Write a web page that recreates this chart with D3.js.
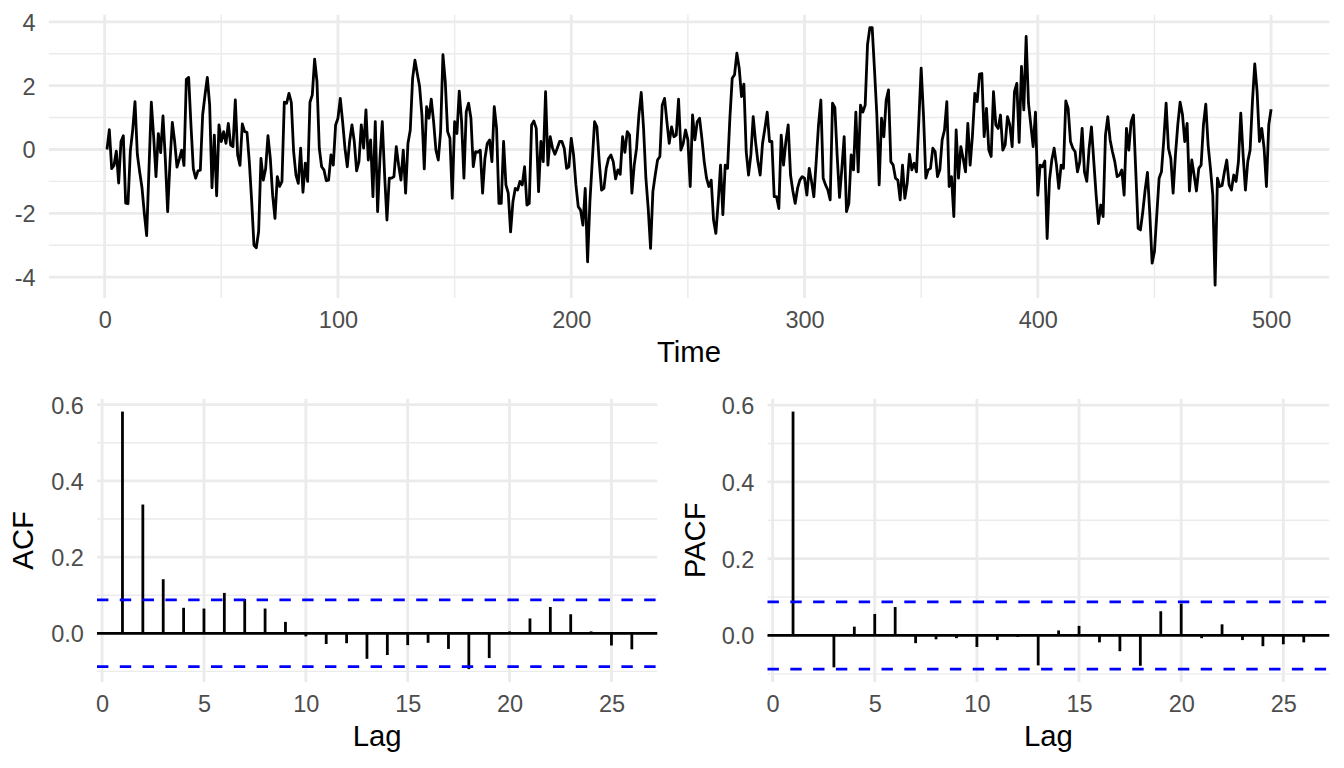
<!DOCTYPE html>
<html>
<head>
<meta charset="utf-8">
<script src="https://cdn.jsdelivr.net/npm/d3@7"></script>
<style>
  body { margin: 0; background: #ffffff; }
  svg text { font-family: "Liberation Sans", Arial, sans-serif; }
</style>
</head>
<body>
<script>
// simulated series (t = 1..500)
const series = [
  0.0, 0.62, -0.6, -0.5, -0.05, -1.05, 0.25, 0.43, -1.68, -1.7,
  -0.05, 0.6, 1.5, -0.15, -0.7, -1.2, -2.0, -2.7, -0.6, 1.48,
  0.4, -0.85, 0.5, -0.1, 1.05, -0.3, -1.95, -0.4, 0.85, 0.25,
  -0.55, -0.3, -0.02, -0.5, 2.2, 2.26, 0.75, -0.6, -0.9, -0.67,
  -0.65, 1.08, 1.7, 2.26, 1.4, -1.2, 0.45, -1.45, 0.77, 0.25,
  0.56, 0.19, 0.82, 0.14, 0.09, 1.55, -0.17, -0.5, 0.8, 0.56,
  0.54, -0.38, -1.6, -3.0, -3.08, -2.57, -0.28, -0.96, -0.6, 0.43,
  -0.28, -1.43, -2.16, -0.85, -1.16, -1.0, 1.48, 1.45, 1.76, 1.48,
  -0.07, -0.8, -1.06, 0.04, -1.34, -0.43, -1.0, 1.48, 1.71, 2.83,
  2.13, 0.04, -0.54, -0.64, -0.98, -0.96, -0.17, -0.49, 0.77, 0.98,
  1.6, 0.87, 0.04, -0.54, 0.25, 0.77, 0.25, -0.67, -0.38, 0.77,
  0.04, 1.24, -0.33, 0.3, -1.48, 0.87, -1.95, -0.28, 0.87, -0.8,
  -2.21, -0.9, -0.9, -0.85, 0.09, -0.49, -0.96, -0.02, -1.37, 0.19,
  0.61, 2.23, 2.8, 2.38, 1.97, 1.08, -0.61, 1.34, 0.98, 1.58,
  0.87, -0.02, -0.33, 0.56, 2.97, 2.13, 0.56, 0.35, -1.53, 0.87,
  0.5, 1.83, 0.87, -0.9, 1.19, 1.45, 0.98, -0.54, -0.07, -0.09,
  -0.02, -1.37, -0.28, 0.19, 0.3, -0.38, 1.34, 0.66, -1.69, -1.69,
  0.25, -1.11, -1.37, -2.58, -1.64, -1.22, -1.27, -1.0, -1.11, -0.54,
  -1.74, -1.69, 0.77, 0.89, 0.66, -1.32, 0.25, -0.38, 1.81, -0.49,
  0.4, 0.04, -0.15, 0.04, 0.25, 0.25, 0.04, -0.59, -0.54, 0.35,
  -0.17, -1.11, -1.79, -1.9, -2.37, -1.22, -3.52, -1.64, -0.38, 0.87,
  0.71, -0.38, -1.27, -1.22, -0.59, -0.28, -0.17, -0.38, -0.92, -0.64,
  -0.78, 0.4, -0.09, 0.56, 0.45, -1.37, -0.49, 0.04, 1.08, 1.79,
  0.66, -0.9, -1.85, -3.1, -1.32, -0.8, -0.33, -0.22, 1.39, 1.6,
  0.87, 0.19, 0.71, 0.4, 0.45, 1.58, -0.02, 0.19, 0.61, 0.3,
  -1.16, 1.08, 0.3, 0.87, 0.98, 0.35, -0.38, -0.9, -1.16, -0.96,
  -2.21, -2.63, -1.64, -0.49, -2.04, -0.49, -0.59, 0.98, 2.23, 2.34,
  3.02, 2.55, 1.66, 2.05, -0.07, -0.8, -0.17, 1.03, 0.25, -0.38,
  -0.8, 0.19, 0.66, 1.17, 0.25, 0.25, -1.48, -1.48, -1.85, 0.45,
  -0.49, 0.25, 0.77, -0.8, -1.3, -1.69, -1.22, -0.96, -0.85, -0.9,
  -1.43, -0.59, -1.0, -1.48, -0.38, 0.77, 1.55, -0.9, -1.11, -1.27,
  -1.58, 1.45, 1.31, -0.2, -1.5, -0.6, 0.4, -1.95, -1.69, -0.17,
  -0.64, 1.17, -0.7, 1.39, 1.17, 1.39, 3.28, 3.82, 3.82, 2.49,
  1.08, -1.11, 0.98, 0.4, 1.55, 1.87, -0.38, -0.49, -0.9, -0.96,
  -1.58, -0.49, -1.53, -1.06, -0.15, -0.64, -0.43, -0.7, 0.9, 2.55,
  1.08, -0.9, -0.64, -0.59, 0.04, -0.07, -0.85, -0.64, 0.3, 0.61,
  1.5, -1.16, -0.85, -2.1, 0.61, -0.9, 0.09, -0.28, -0.7, 0.82,
  -0.49, 0.45, 1.76, 1.5, 2.36, 2.38, 0.4, 1.29, -0.02, -0.22,
  1.81, 0.77, 0.66, 1.08, -0.02, 0.14, 1.03, 0.77, 0.09, 1.81,
  2.07, 0.22, 2.6, 1.24, 3.54, 1.45, 0.77, 0.09, 1.17, -1.43,
  -0.49, -0.54, -0.36, -2.79, -0.96, -0.33, 0.04, -0.49, -1.22, -0.49,
  -0.59, 1.52, 1.29, 0.25, 0.04, -0.07, -0.7, -0.38, 0.66, -0.7,
  -1.0, 0.04, 0.71, -0.38, -1.43, -2.32, -1.74, -2.1, 0.45, 1.03,
  0.3, -0.07, -0.38, -0.85, -0.8, -0.64, -1.43, 0.66, -0.02, 0.87,
  1.08, -0.7, -2.47, -2.52, -1.95, -1.27, -0.72, -2.0, -3.56, -3.2,
  -2.05, -0.9, -0.7, 0.3, 1.45, 0.04, -0.28, -1.37, -0.17, 0.77,
  1.48, 1.1, 0.25, 0.82, -1.3, -0.33, -0.8, -1.3, -0.59, -0.49,
  0.77, 1.42, 0.14, -0.59, -1.43, -4.25, -0.9, -1.16, -1.13, -0.7,
  -0.33, -1.11, -1.27, -0.8, -1.0, -0.38, 1.14, -0.17, -1.27, -0.38,
  -0.02, 1.5, 2.68, 1.81, 0.25, 0.66, 0.04, -1.16, 0.77, 1.26
];

// lags 1..26
const lags = d3.range(1, 27);
const acfValues = [
  0.582, 0.338, 0.142, 0.067, 0.065, 0.106, 0.090, 0.065, 0.030, -0.008,
  -0.028, -0.026, -0.067, -0.057, -0.031, -0.025, -0.041, -0.094, -0.065, 0.005,
  0.039, 0.069, 0.050, 0.005, -0.032, -0.042
];
const pacfValues = [
  0.583, 0.002, -0.083, 0.023, 0.056, 0.074, -0.020, -0.010, -0.007, -0.030,
  -0.012, -0.004, -0.078, 0.013, 0.025, -0.018, -0.041, -0.079, 0.063, 0.083,
  -0.007, 0.029, -0.012, -0.028, -0.023, -0.018
];

// tick labels
const timeTicks = [0, 100, 200, 300, 400, 500];
const valueTicks = [-4, -2, 0, 2, 4];
const lagTicks = [0, 5, 10, 15, 20, 25];
const corrTicks = [0, 0.2, 0.4, 0.6];

const W = 1344, H = 768;
const gridColor = '#ebebeb';
const tickColor = '#4d4d4d';
const tickFont = 23.5, titleFont = 29.3;

/**
 * ggplot-like 5% expansion of a range
 */
const expand = (lo, hi) => {
    let pad = (hi - lo) * 0.05;
    return [lo - pad, hi + pad];
};

/**
 * minor breaks halfway between majors, kept inside the domain
 */
const minorBreaks = (majors, domain) => {
    let step = majors[1] - majors[0];
    let ext = [majors[0] - step, ...majors, majors[majors.length - 1] + step];
    let mids = [];
    for (let i = 0; i < ext.length - 1; i++) mids.push((ext[i] + ext[i + 1]) / 2);
    return mids.filter(m => m >= domain[0] && m <= domain[1]);
};

const svg = d3.select('body')
    .append('svg')
    .attr('width', W)
    .attr('height', H)
    .style('display', 'block');

/**
 * draws grid, tick labels and axis titles of one panel
 */
const drawPanel = (box, x, y, opts) => {
    let g = svg.append('g');
    let xd = x.domain(), yd = y.domain();

    // minor grid
    if (opts.xMinor) {
        g.selectAll('line.xmin')
            .data(minorBreaks(opts.xTicks, xd))
            .enter().append('line')
            .attr('x1', d => x(d)).attr('x2', d => x(d))
            .attr('y1', box.top).attr('y2', box.bottom)
            .attr('stroke', gridColor).attr('stroke-width', 1.4);
    }
    g.selectAll('line.ymin')
        .data(minorBreaks(opts.yTicks, yd))
        .enter().append('line')
        .attr('x1', box.left).attr('x2', box.right)
        .attr('y1', d => y(d)).attr('y2', d => y(d))
        .attr('stroke', gridColor).attr('stroke-width', 1.4);

    // major grid
    g.selectAll('line.xmaj')
        .data(opts.xTicks)
        .enter().append('line')
        .attr('x1', d => x(d)).attr('x2', d => x(d))
        .attr('y1', box.top).attr('y2', box.bottom)
        .attr('stroke', gridColor).attr('stroke-width', 2.8);
    g.selectAll('line.ymaj')
        .data(opts.yTicks)
        .enter().append('line')
        .attr('x1', box.left).attr('x2', box.right)
        .attr('y1', d => y(d)).attr('y2', d => y(d))
        .attr('stroke', gridColor).attr('stroke-width', 2.8);

    // axes (labels only)
    let xAxis = svg.append('g')
        .attr('transform', `translate(0,${box.bottom})`)
        .call(d3.axisBottom(x).tickValues(opts.xTicks).tickFormat(opts.xFormat)
            .tickSizeInner(0).tickSizeOuter(0).tickPadding(13.2));
    let yAxis = svg.append('g')
        .attr('transform', `translate(${box.left},0)`)
        .call(d3.axisLeft(y).tickValues(opts.yTicks).tickFormat(opts.yFormat)
            .tickSizeInner(0).tickSizeOuter(0).tickPadding(13.2));
    [xAxis, yAxis].forEach(a => {
        a.select('.domain').remove();
        a.attr('font-family', null).attr('font-size', null);
        a.selectAll('text')
            .style('font-size', tickFont + 'px')
            .attr('fill', tickColor);
    });
    yAxis.selectAll('text').attr('dy', '0.36em');

    // axis titles
    svg.append('text')
        .attr('x', (box.left + box.right) / 2)
        .attr('y', opts.xTitleY)
        .attr('text-anchor', 'middle')
        .style('font-size', titleFont + 'px')
        .text(opts.xTitle);
    if (opts.yTitle) {
        svg.append('text')
            .attr('transform', `translate(${opts.yTitleX},${(box.top + box.bottom) / 2}) rotate(-90)`)
            .attr('text-anchor', 'middle')
            .style('font-size', titleFont + 'px')
            .text(opts.yTitle);
    }
};

/**
 * time series panel
 */
const renderSeries = () => {
    let box = {left: 48.8, right: 1329.3, top: 14.7, bottom: 298};
    let data = series.map((v, i) => ({t: i + 1, v: v}));
    let x = d3.scaleLinear().domain(expand(1, series.length)).range([box.left, box.right]);
    let y = d3.scaleLinear().domain(expand(d3.min(series), d3.max(series))).range([box.bottom, box.top]);

    drawPanel(box, x, y, {
        xTicks: timeTicks, yTicks: valueTicks, xMinor: true,
        xFormat: d => String(d), yFormat: d => String(d),
        xTitle: 'Time', xTitleY: 362
    });

    svg.append('path')
        .datum(data)
        .attr('fill', 'none')
        .attr('stroke', '#000000')
        .attr('stroke-width', 2.8)
        .attr('stroke-linejoin', 'round')
        .attr('d', d3.line().x(d => x(d.t)).y(d => y(d.v)));
};

/**
 * correlogram panel (ACF / PACF)
 */
const renderCorrelogram = (values, box, label, titleX) => {
    let ci = 1.96 / Math.sqrt(series.length);
    let x = d3.scaleLinear().domain(expand(lags[0], lags[lags.length - 1])).range([box.left, box.right]);
    let y = d3.scaleLinear()
        .domain(expand(Math.min(d3.min(values), -ci), Math.max(d3.max(values), ci)))
        .range([box.bottom, box.top]);

    drawPanel(box, x, y, {
        xTicks: lagTicks, yTicks: corrTicks, xMinor: false,
        xFormat: d => String(d), yFormat: d3.format('.1f'),
        xTitle: 'Lag', xTitleY: 746,
        yTitle: label, yTitleX: titleX
    });

    // zero line
    svg.append('line')
        .attr('x1', box.left).attr('x2', box.right)
        .attr('y1', y(0)).attr('y2', y(0))
        .attr('stroke', '#000000').attr('stroke-width', 2.8);

    // spikes
    svg.append('g').selectAll('line')
        .data(lags)
        .enter().append('line')
        .attr('x1', d => x(d)).attr('x2', d => x(d))
        .attr('y1', y(0))
        .attr('y2', (d, i) => y(values[i]))
        .attr('stroke', '#000000').attr('stroke-width', 2.8);

    // confidence bounds
    svg.append('g').selectAll('line')
        .data([ci, -ci])
        .enter().append('line')
        .attr('x1', box.left).attr('x2', box.right)
        .attr('y1', d => y(d)).attr('y2', d => y(d))
        .attr('stroke', '#0000ff').attr('stroke-width', 2.8)
        .attr('stroke-dasharray', '11.4,11.4');
};

renderSeries();
renderCorrelogram(acfValues, {left: 97, right: 657.3, top: 398.7, bottom: 682}, 'ACF', 33);
renderCorrelogram(pacfValues, {left: 767.5, right: 1329.3, top: 398.7, bottom: 682}, 'PACF', 705);
</script>
</body>
</html>
